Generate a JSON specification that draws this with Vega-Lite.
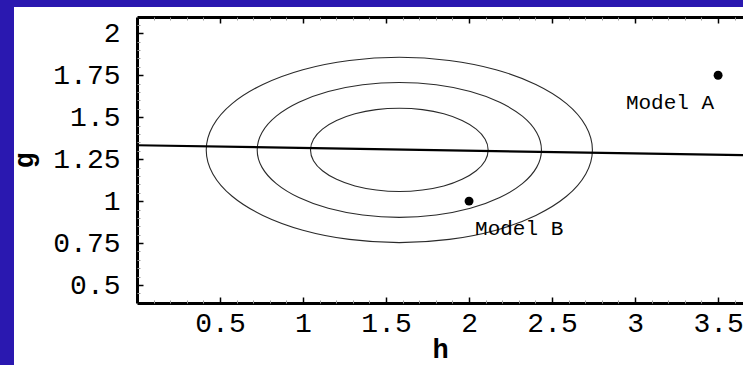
{
  "$schema": "https://vega.github.io/schema/vega-lite/v6.json",
  "width": 729,
  "height": 358,
  "autosize": {"type": "none"},
  "padding": {"left": 14, "top": 7, "right": 0, "bottom": 0},
  "background": "#2a18b0",
  "config": {
    "view": {"fill": "white", "stroke": null},
    "axis": {"grid": false, "labelFont": "Liberation Mono", "titleFont": "Liberation Mono", "labelColor": "black", "titleColor": "black", "labelOverlap": false, "labelFlush": false}
  },
  "datasets": {
    "ellipses": [
      {"ring": "inner", "i": 0, "h": 2.115, "g": 1.305},
      {"ring": "inner", "i": 1, "h": 2.097, "g": 1.369},
      {"ring": "inner", "i": 2, "h": 2.043, "g": 1.429},
      {"ring": "inner", "i": 3, "h": 1.958, "g": 1.480},
      {"ring": "inner", "i": 4, "h": 1.848, "g": 1.520},
      {"ring": "inner", "i": 5, "h": 1.719, "g": 1.545},
      {"ring": "inner", "i": 6, "h": 1.580, "g": 1.553},
      {"ring": "inner", "i": 7, "h": 1.441, "g": 1.545},
      {"ring": "inner", "i": 8, "h": 1.313, "g": 1.520},
      {"ring": "inner", "i": 9, "h": 1.202, "g": 1.480},
      {"ring": "inner", "i": 10, "h": 1.117, "g": 1.429},
      {"ring": "inner", "i": 11, "h": 1.063, "g": 1.369},
      {"ring": "inner", "i": 12, "h": 1.045, "g": 1.305},
      {"ring": "inner", "i": 13, "h": 1.063, "g": 1.241},
      {"ring": "inner", "i": 14, "h": 1.117, "g": 1.181},
      {"ring": "inner", "i": 15, "h": 1.202, "g": 1.130},
      {"ring": "inner", "i": 16, "h": 1.313, "g": 1.090},
      {"ring": "inner", "i": 17, "h": 1.441, "g": 1.066},
      {"ring": "inner", "i": 18, "h": 1.580, "g": 1.057},
      {"ring": "inner", "i": 19, "h": 1.719, "g": 1.066},
      {"ring": "inner", "i": 20, "h": 1.848, "g": 1.090},
      {"ring": "inner", "i": 21, "h": 1.958, "g": 1.130},
      {"ring": "inner", "i": 22, "h": 2.043, "g": 1.181},
      {"ring": "inner", "i": 23, "h": 2.097, "g": 1.241},
      {"ring": "middle", "i": 0, "h": 2.436, "g": 1.305},
      {"ring": "middle", "i": 1, "h": 2.407, "g": 1.409},
      {"ring": "middle", "i": 2, "h": 2.321, "g": 1.506},
      {"ring": "middle", "i": 3, "h": 2.185, "g": 1.589},
      {"ring": "middle", "i": 4, "h": 2.008, "g": 1.653},
      {"ring": "middle", "i": 5, "h": 1.802, "g": 1.693},
      {"ring": "middle", "i": 6, "h": 1.580, "g": 1.707},
      {"ring": "middle", "i": 7, "h": 1.359, "g": 1.693},
      {"ring": "middle", "i": 8, "h": 1.152, "g": 1.653},
      {"ring": "middle", "i": 9, "h": 0.975, "g": 1.589},
      {"ring": "middle", "i": 10, "h": 0.839, "g": 1.506},
      {"ring": "middle", "i": 11, "h": 0.753, "g": 1.409},
      {"ring": "middle", "i": 12, "h": 0.724, "g": 1.305},
      {"ring": "middle", "i": 13, "h": 0.753, "g": 1.201},
      {"ring": "middle", "i": 14, "h": 0.839, "g": 1.104},
      {"ring": "middle", "i": 15, "h": 0.975, "g": 1.021},
      {"ring": "middle", "i": 16, "h": 1.152, "g": 0.957},
      {"ring": "middle", "i": 17, "h": 1.359, "g": 0.917},
      {"ring": "middle", "i": 18, "h": 1.580, "g": 0.903},
      {"ring": "middle", "i": 19, "h": 1.802, "g": 0.917},
      {"ring": "middle", "i": 20, "h": 2.008, "g": 0.957},
      {"ring": "middle", "i": 21, "h": 2.185, "g": 1.021},
      {"ring": "middle", "i": 22, "h": 2.321, "g": 1.104},
      {"ring": "middle", "i": 23, "h": 2.407, "g": 1.201},
      {"ring": "outer", "i": 0, "h": 2.743, "g": 1.305},
      {"ring": "outer", "i": 1, "h": 2.703, "g": 1.448},
      {"ring": "outer", "i": 2, "h": 2.587, "g": 1.581},
      {"ring": "outer", "i": 3, "h": 2.402, "g": 1.695},
      {"ring": "outer", "i": 4, "h": 2.162, "g": 1.783},
      {"ring": "outer", "i": 5, "h": 1.881, "g": 1.838},
      {"ring": "outer", "i": 6, "h": 1.580, "g": 1.857},
      {"ring": "outer", "i": 7, "h": 1.279, "g": 1.838},
      {"ring": "outer", "i": 8, "h": 0.999, "g": 1.783},
      {"ring": "outer", "i": 9, "h": 0.758, "g": 1.695},
      {"ring": "outer", "i": 10, "h": 0.573, "g": 1.581},
      {"ring": "outer", "i": 11, "h": 0.457, "g": 1.448},
      {"ring": "outer", "i": 12, "h": 0.417, "g": 1.305},
      {"ring": "outer", "i": 13, "h": 0.457, "g": 1.162},
      {"ring": "outer", "i": 14, "h": 0.573, "g": 1.029},
      {"ring": "outer", "i": 15, "h": 0.758, "g": 0.915},
      {"ring": "outer", "i": 16, "h": 0.999, "g": 0.827},
      {"ring": "outer", "i": 17, "h": 1.279, "g": 0.772},
      {"ring": "outer", "i": 18, "h": 1.580, "g": 0.753},
      {"ring": "outer", "i": 19, "h": 1.881, "g": 0.772},
      {"ring": "outer", "i": 20, "h": 2.162, "g": 0.827},
      {"ring": "outer", "i": 21, "h": 2.402, "g": 0.915},
      {"ring": "outer", "i": 22, "h": 2.587, "g": 1.029},
      {"ring": "outer", "i": 23, "h": 2.703, "g": 1.162}
    ],
    "fit": [
      {"h": 0.0, "g": 1.333},
      {"h": 3.65, "g": 1.274}
    ],
    "models": [
      {"model": "Model A", "h": 3.5, "g": 1.75},
      {"model": "Model B", "h": 2.0, "g": 1.0}
    ]
  },
  "resolve": {"axis": {"x": "independent", "y": "independent"}},
  "layer": [
    {
      "data": {"name": "ellipses"},
      "mark": {"type": "line", "interpolate": "cardinal-closed", "stroke": "#2a2a2a", "strokeWidth": 1.1},
      "encoding": {
        "x": {"field": "h", "type": "quantitative",
          "scale": {"domain": [0, 3.65], "range": [123, 729], "nice": false, "zero": false},
          "axis": {"orient": "bottom", "offset": -62, "values": [0.5, 1, 1.5, 2, 2.5, 3, 3.5], "format": ".3~g",
            "title": "h", "titleFont": "Liberation Mono", "titleFontWeight": "bold", "titleFontSize": 27, "titlePadding": -1,
            "labelFont": "Liberation Mono", "labelFontSize": 28, "labelPadding": 12, "tickSize": -6, "tickColor": "black", "tickWidth": 1.5,
            "domainColor": "black", "domainWidth": 3}},
        "y": {"field": "g", "type": "quantitative",
          "scale": {"domain": [0.393, 2.097], "range": [296, 10], "nice": false, "zero": false},
          "axis": {"orient": "left", "offset": -123, "values": [0.5, 0.75, 1, 1.25, 1.5, 1.75, 2], "format": ".3~g",
            "title": "g", "titleFont": "Liberation Mono", "titleFontWeight": "bold", "titleFontSize": 27, "titlePadding": 14,
            "labelFont": "Liberation Mono", "labelFontSize": 28, "labelPadding": 23, "tickSize": -6, "tickColor": "black", "tickWidth": 1.5,
            "domainColor": "black", "domainWidth": 3}},
        "detail": {"field": "ring"},
        "order": {"field": "i", "type": "quantitative"}
      }
    },
    {
      "data": {"name": "fit"},
      "mark": {"type": "line", "stroke": "black", "strokeWidth": 2.2, "clip": true},
      "encoding": {
        "x": {"field": "h", "type": "quantitative",
          "axis": {"orient": "top", "offset": -10, "values": [0.5, 1, 1.5, 2, 2.5, 3, 3.5], "labels": false, "title": null,
            "tickSize": -6, "tickColor": "black", "tickWidth": 1.5, "domainColor": "black", "domainWidth": 3}},
        "y": {"field": "g", "type": "quantitative",
          "axis": {"orient": "left", "offset": -123, "values": [0.45, 0.55, 0.6, 0.65, 0.7, 0.8, 0.85, 0.9, 0.95, 1.05, 1.1, 1.15, 1.2, 1.3, 1.35, 1.4, 1.45, 1.55, 1.6, 1.65, 1.7, 1.8, 1.85, 1.9, 1.95, 2.05],
            "labels": false, "title": null, "domain": false, "tickSize": -3, "tickColor": "#9a9a9a", "tickWidth": 1}}
      }
    },
    {
      "data": {"name": "models"},
      "mark": {"type": "point", "filled": true, "color": "black", "opacity": 1, "size": 80},
      "encoding": {
        "x": {"field": "h", "type": "quantitative",
          "axis": {"orient": "bottom", "offset": -62, "values": [0.1, 0.2, 0.3, 0.4, 0.6, 0.7, 0.8, 0.9, 1.1, 1.2, 1.3, 1.4, 1.6, 1.7, 1.8, 1.9, 2.1, 2.2, 2.3, 2.4, 2.6, 2.7, 2.8, 2.9, 3.1, 3.2, 3.3, 3.4, 3.6],
            "labels": false, "title": null, "domain": false, "tickSize": -3, "tickColor": "#9a9a9a", "tickWidth": 1}},
        "y": {"field": "g", "type": "quantitative", "axis": null}
      }
    },
    {
      "data": {"name": "models"},
      "transform": [{"filter": "datum.model === 'Model A'"}],
      "mark": {"type": "text", "font": "Liberation Mono", "fontSize": 21, "color": "black", "align": "right", "baseline": "middle", "dx": -4, "dy": 28},
      "encoding": {
        "x": {"field": "h", "type": "quantitative",
          "axis": {"orient": "top", "offset": -10, "values": [0.1, 0.2, 0.3, 0.4, 0.6, 0.7, 0.8, 0.9, 1.1, 1.2, 1.3, 1.4, 1.6, 1.7, 1.8, 1.9, 2.1, 2.2, 2.3, 2.4, 2.6, 2.7, 2.8, 2.9, 3.1, 3.2, 3.3, 3.4, 3.6],
            "labels": false, "title": null, "domain": false, "tickSize": -3, "tickColor": "#9a9a9a", "tickWidth": 1}},
        "y": {"field": "g", "type": "quantitative", "axis": null},
        "text": {"field": "model"}
      }
    },
    {
      "data": {"name": "models"},
      "transform": [{"filter": "datum.model === 'Model B'"}],
      "mark": {"type": "text", "font": "Liberation Mono", "fontSize": 21, "color": "black", "align": "left", "baseline": "middle", "dx": 6, "dy": 28},
      "encoding": {
        "x": {"field": "h", "type": "quantitative", "axis": null},
        "y": {"field": "g", "type": "quantitative", "axis": null},
        "text": {"field": "model"}
      }
    }
  ]
}
